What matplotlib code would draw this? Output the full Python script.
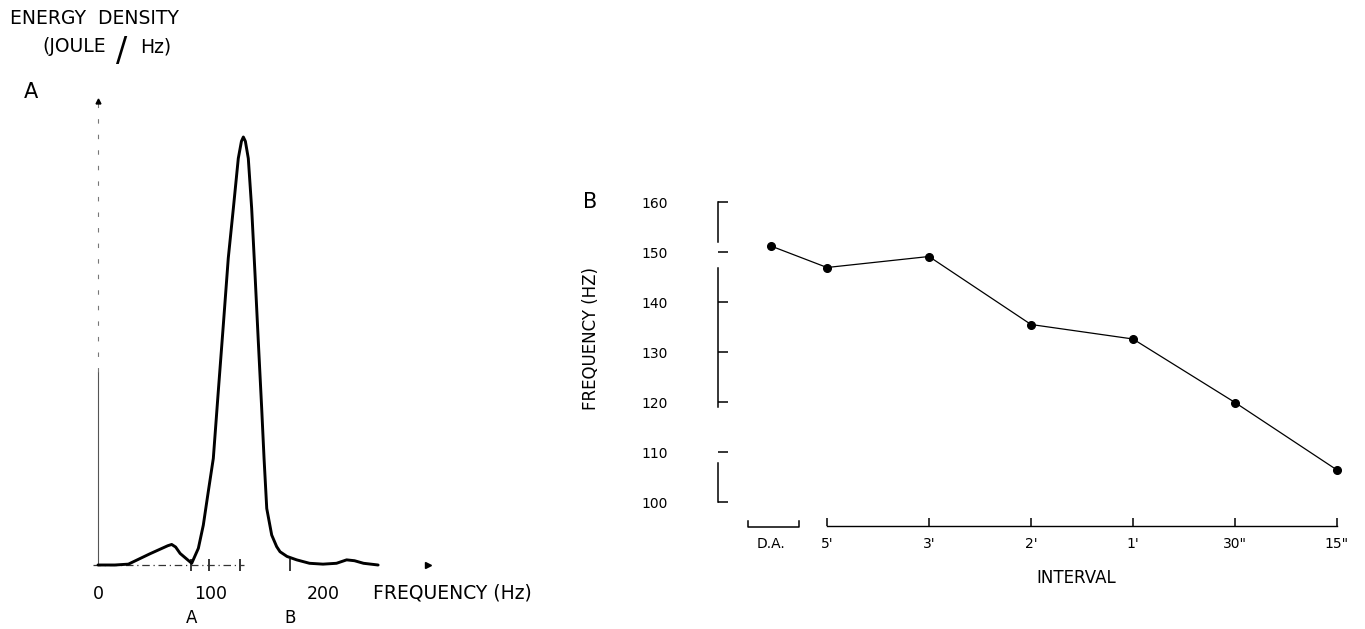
import matplotlib
matplotlib.use("Agg")
import matplotlib.pyplot as plt
import matplotlib.transforms as mtransforms

# ---------------- data ----------------
# Panel A: energy density spectrum (relative units, peak = 1)
freq_hz = [0, 15, 27, 46, 62, 65.5, 69, 73, 83.3, 89.2, 93.6, 98.0, 102.5, 106.9,
           111.4, 115.8, 120.3, 124.7, 127.5, 129.2, 131, 133.6, 136.6, 139.6,
           142.5, 145.5, 147.6, 150, 154.4, 158.8, 161.8, 168, 176.6, 188, 200,
           212, 221, 228, 236, 249]
energy = [0.0, 0.0, 0.002, 0.026, 0.045, 0.048, 0.042, 0.027, 0.004, 0.039,
          0.093, 0.171, 0.249, 0.405, 0.561, 0.717, 0.833, 0.95, 0.99, 1.0,
          0.99, 0.95, 0.833, 0.678, 0.522, 0.366, 0.249, 0.132, 0.070, 0.043,
          0.031, 0.02, 0.012, 0.004, 0.002, 0.004, 0.012, 0.010, 0.004, 0.0]
a_major_ticks = [0, 100, 200]
a_minor_ticks = [83, 99, 126, 171, 200]
a_minor_labels = ["A", "", "", "B", ""]

# Panel B: frequency by interval
interval_labels = ["D.A.", "5'", "3'", "2'", "1'", '30"', '15"']
freq_values = [151.2, 146.9, 149.1, 135.5, 132.6, 119.9, 106.4]
b_yticks = [100, 110, 120, 130, 140, 150, 160]

W, H = 1365, 629
fig = plt.figure(figsize=(W / 100, H / 100), dpi=100)
plt.rcParams['font.family'] = ['DejaVu Sans']

def fx(px):
    return px / W

def fy(py):
    return 1 - py / H

# ---------------- Panel A ----------------
axA = fig.add_axes([fx(98), fy(565), fx(434 - 98), (565 - 95) / H])
axA.set_xlim(0, (434 - 98) / 1.125)
axA.set_ylim(0, 470 / 428)
for s in axA.spines.values():
    s.set_visible(False)

# axes decorations
axA.plot([0, 0], [0, 0.45], color="#555555", lw=0.8, clip_on=False)
axA.plot([0, 0], [0.45, 1.08], color="#777777", lw=0.8, ls=(0, (4, 10)), clip_on=False)
axA.plot([0], [1.085], marker="^", color="black", ms=3.5, clip_on=False)
axA.plot([-4, 130], [0, 0], color="#333333", lw=0.9, ls=(0, (6, 3, 1, 3)), clip_on=False)
axA.plot([293.5], [0], marker=">", color="black", ms=5, clip_on=False)

axA.plot(freq_hz, energy, color="black", lw=2.1, solid_capstyle="round",
         solid_joinstyle="round", clip_on=False)

axA.set_yticks([])
axA.set_xticks(a_major_ticks)
axA.set_xticklabels([str(t) for t in a_major_ticks], fontsize=12.5)
axA.tick_params(axis="x", which="major", length=0, pad=14.5)
axA.set_xticks(a_minor_ticks, minor=True)
axA.set_xticklabels(a_minor_labels, minor=True, fontsize=12)
axA.tick_params(axis="x", which="minor", direction="inout", length=9, width=1.1,
                pad=27)

fig.text(fx(10), fy(18), "ENERGY  DENSITY", fontsize=13.5, ha="left", va="center")
fig.text(fx(42), fy(47), "(JOULE", fontsize=13.5, ha="left", va="center")
fig.text(fx(122), fy(51), "/", fontsize=24, ha="center", va="center")
fig.text(fx(140), fy(47), "Hz)", fontsize=13.5, ha="left", va="center")
fig.text(fx(31), fy(92), "A", fontsize=15, ha="center", va="center")
fig.text(fx(373), fy(593), "FREQUENCY (Hz)", fontsize=13.5, ha="left", va="center")

# ---------------- Panel B ----------------
axB = fig.add_axes([fx(718), fy(502), fx(1345 - 718), 300 / H])
axB.set_xlim((718 - 827) / 102, (1345 - 827) / 102)
axB.set_ylim(100, 160)
positions = [-0.55] + list(range(len(interval_labels) - 1))

axB.plot(positions, freq_values, color="black", lw=0.9, marker="o", ms=5.5,
         clip_on=False)

for side in ["top", "right", "left"]:
    axB.spines[side].set_visible(False)

# broken left axis line
trans = mtransforms.blended_transform_factory(axB.transAxes, axB.transData)
for y0, y1 in [(160, 152), (146.8, 119), (107.8, 100)]:
    axB.plot([0, 0], [y0, y1], color="black", lw=1.1, transform=trans, clip_on=False)

axB.set_yticks(b_yticks)
axB.set_yticklabels([str(t) for t in b_yticks], fontsize=10)
axB.tick_params(axis="y", direction="in", length=7.2, width=1.1, pad=36)

axB.spines["bottom"].set_position(("outward", 17.3))
axB.spines["bottom"].set_bounds(0, positions[-1])
axB.spines["bottom"].set_linewidth(1.0)
axB.set_xticks(positions[1:])
axB.set_xticklabels(interval_labels[1:], fontsize=10)
axB.set_xticks([positions[0]], minor=True)
axB.set_xticklabels([interval_labels[0]], minor=True, fontsize=10)
axB.tick_params(axis="x", which="major", direction="in", length=5.5, width=1.1, pad=8)
axB.tick_params(axis="x", which="minor", length=0, pad=8)

# D.A. bracket
ybr = 100 - 24.5 / 5
axB.plot([-0.775, -0.775, -0.275, -0.275], [ybr + 1.2, ybr, ybr, ybr + 1.2],
         color="black", lw=1.1, clip_on=False)

fig.text(fx(590), fy(202), "B", fontsize=15, ha="center", va="center")
fig.text(fx(591), fy(338), "FREQUENCY (HZ)", fontsize=12, rotation=90,
         ha="center", va="center")
fig.text(fx(1076), fy(578), "INTERVAL", fontsize=12, ha="center", va="center")

fig.savefig("out.png", dpi=100)
